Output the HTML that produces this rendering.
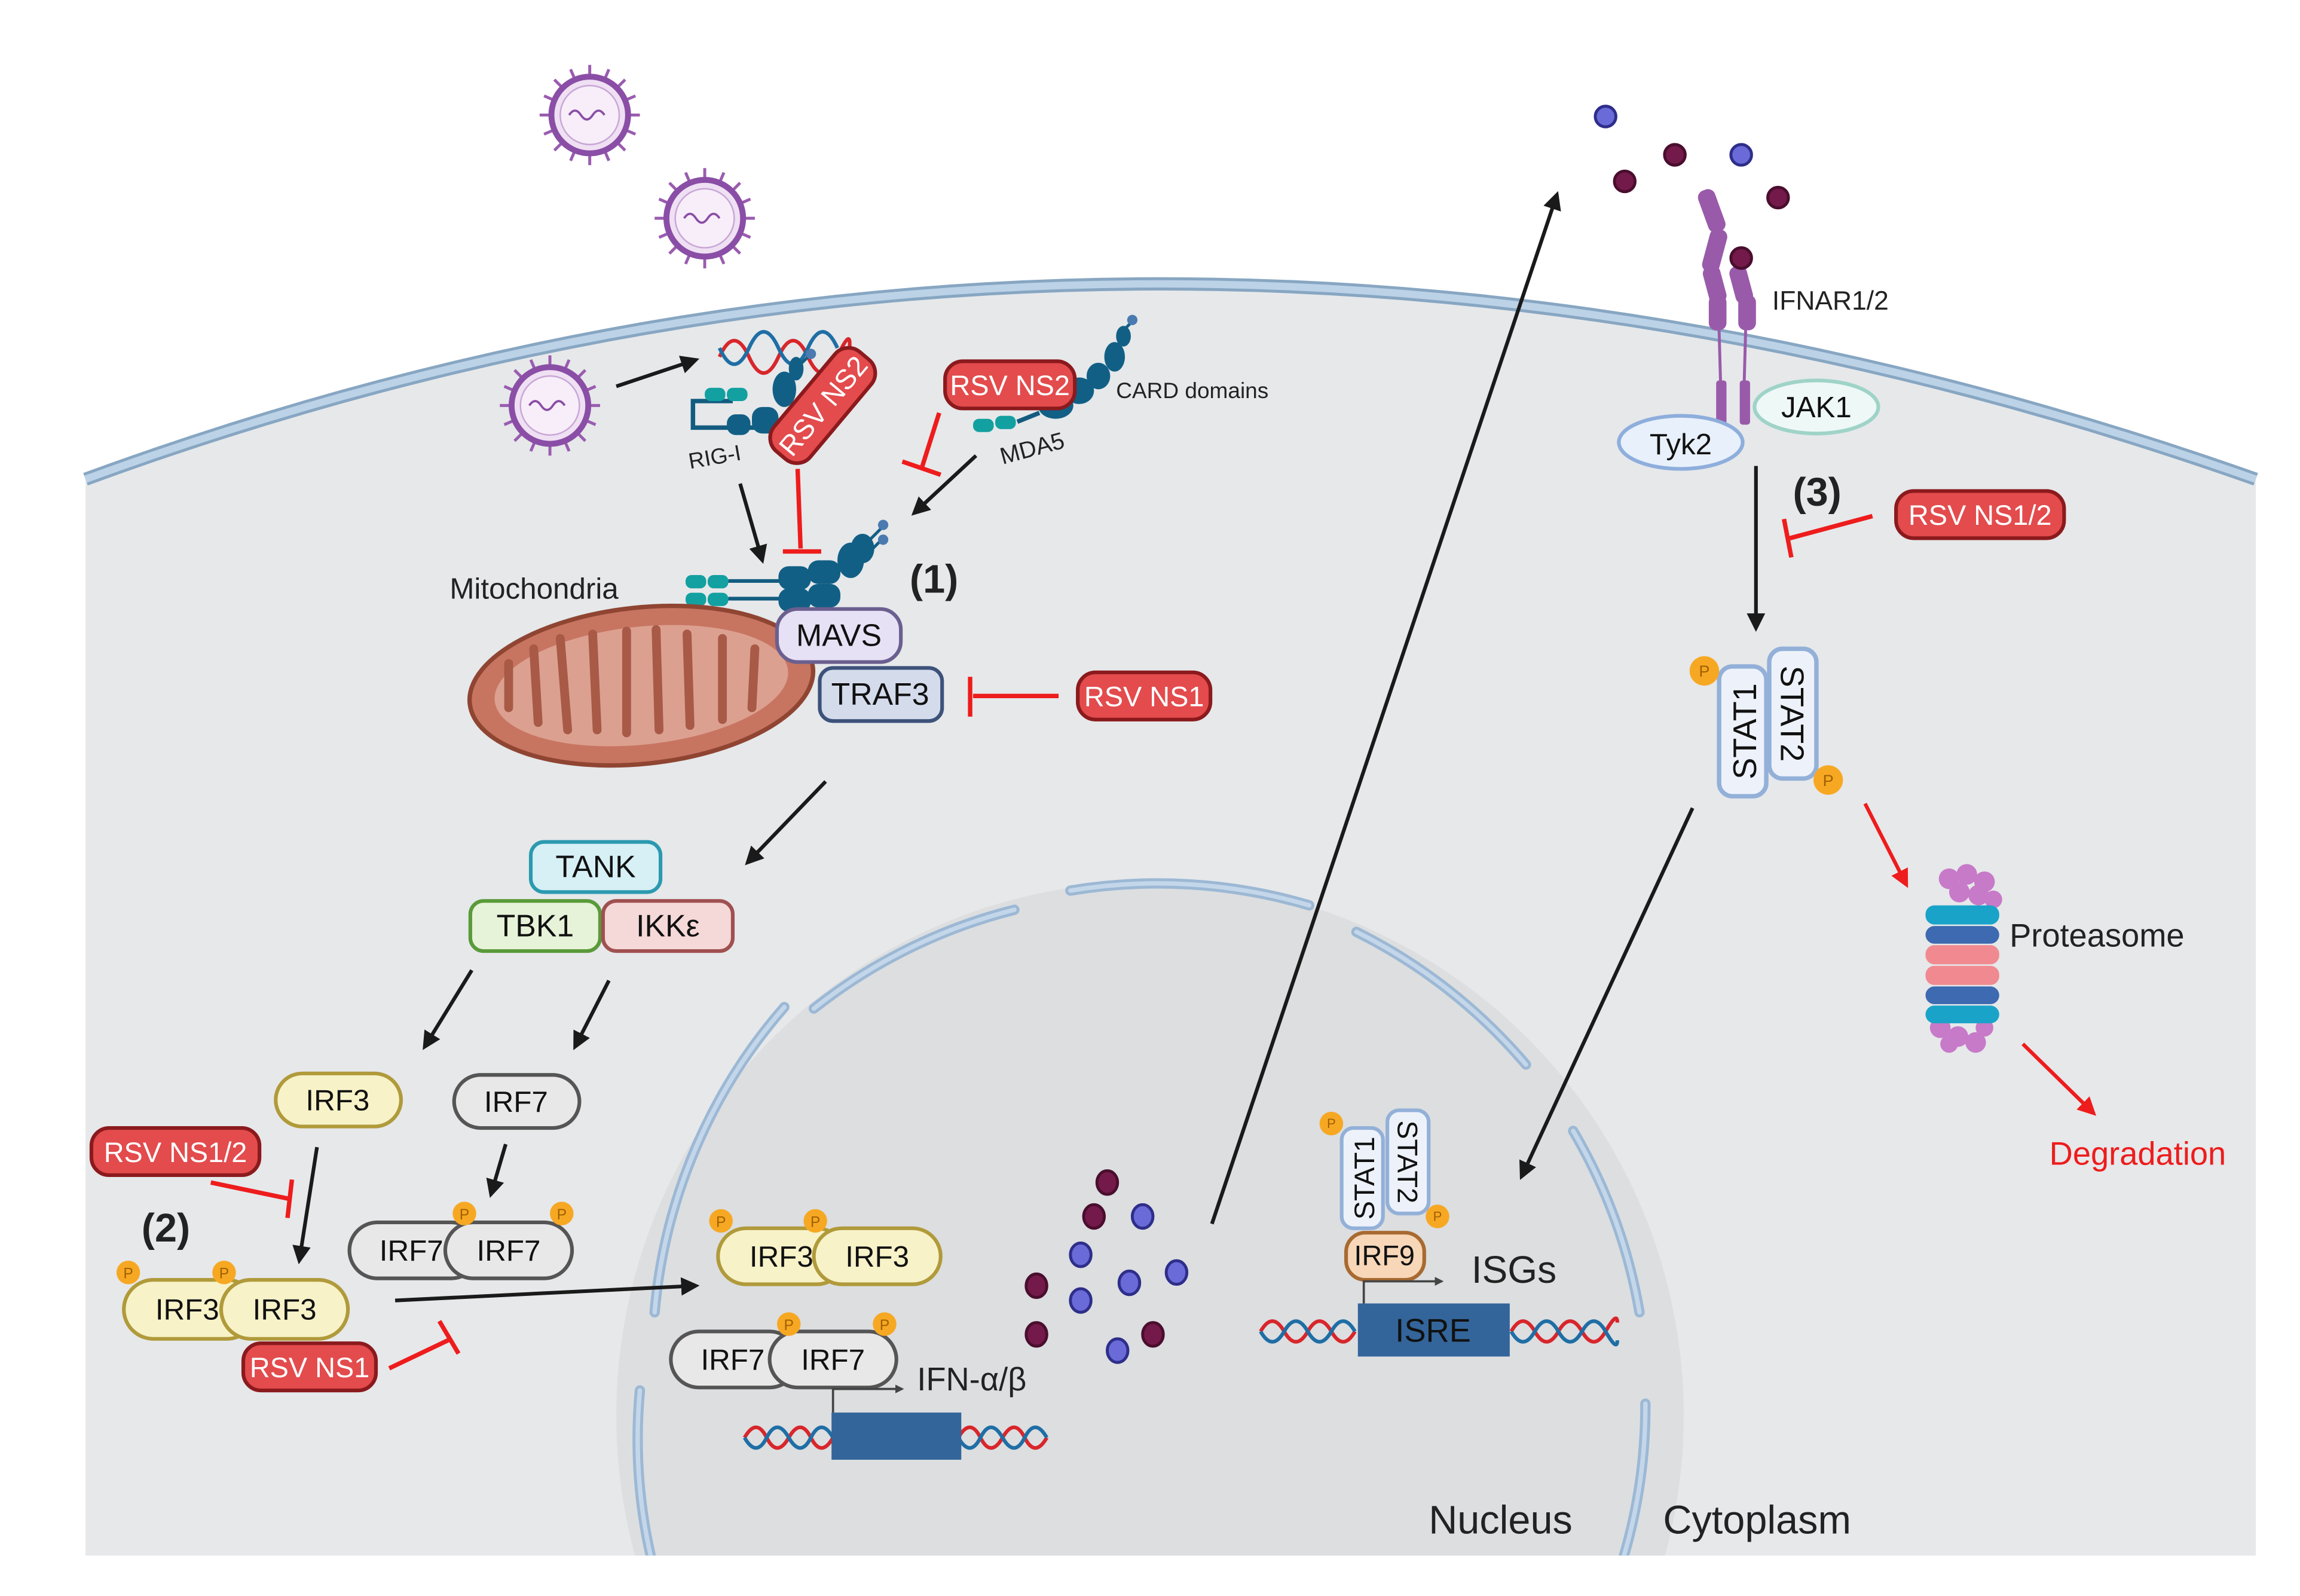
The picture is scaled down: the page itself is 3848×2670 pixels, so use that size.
<!DOCTYPE html>
<html><head><meta charset="utf-8"><style>
html,body{margin:0;padding:0;background:#fff;width:3848px;height:2670px;overflow:hidden}
svg{display:block;position:absolute;left:0;top:0}
text{font-family:"Liberation Sans",sans-serif}
</style></head><body>
<svg width="3848" height="2670" viewBox="0 0 1560 1082.4" xmlns="http://www.w3.org/2000/svg">
<defs>
<marker id="ab" viewBox="0 0 10 10" refX="8" refY="5" markerWidth="5" markerHeight="5" orient="auto"><path d="M0,0L10,5L0,10z" fill="#1a1a1a"/></marker>
<marker id="ar" viewBox="0 0 10 10" refX="8" refY="5" markerWidth="5" markerHeight="5" orient="auto"><path d="M0,0L10,5L0,10z" fill="#ee1c1c"/></marker>
<marker id="as" viewBox="0 0 10 10" refX="8" refY="5" markerWidth="4" markerHeight="4" orient="auto"><path d="M0,0L10,5L0,10z" fill="#444"/></marker>
<clipPath id="cell"><path d="M58,325 Q780,60 1530,325 L1530,1055 L58,1055 Z"/></clipPath>
<g id="virus">
<g stroke="#9a5cb0" stroke-width="2">
<line x1="0" y1="-34" x2="0" y2="-26"/><line x1="0" y1="34" x2="0" y2="26"/><line x1="-34" y1="0" x2="-26" y2="0"/><line x1="34" y1="0" x2="26" y2="0"/>
<line x1="24" y1="24" x2="18" y2="18"/><line x1="-24" y1="24" x2="-18" y2="18"/><line x1="24" y1="-24" x2="18" y2="-18"/><line x1="-24" y1="-24" x2="-18" y2="-18"/>
<line x1="13" y1="31" x2="10" y2="24"/><line x1="-13" y1="31" x2="-10" y2="24"/><line x1="13" y1="-31" x2="10" y2="-24"/><line x1="-13" y1="-31" x2="-10" y2="-24"/>
<line x1="31" y1="13" x2="24" y2="10"/><line x1="-31" y1="13" x2="-24" y2="10"/><line x1="31" y1="-13" x2="24" y2="-10"/><line x1="-31" y1="-13" x2="-24" y2="-10"/>
</g>
<circle r="26" fill="#efe0f3" stroke="#8a4ea6" stroke-width="4"/>
<circle r="20" fill="#f7eef9" stroke="#c9a6d6" stroke-width="1"/>
<path d="M-14,0 q4,-6 8,0 t8,0 t8,0" stroke="#8a4ea6" fill="none" stroke-width="1.5"/>
</g>
</defs>

<path d="M58,325 Q780,60 1530,325 L1530,1055 L58,1055 Z" fill="#e6e8ea"/>
<circle cx="780" cy="960" r="362" fill="#dcdee0" clip-path="url(#cell)"/>
<path d="M58,325 Q780,60 1530,325" fill="none" stroke="#87a6c2" stroke-width="9"/>
<path d="M58,325 Q780,60 1530,325" fill="none" stroke="#bcd2e7" stroke-width="5"/>
<g fill="none" stroke="#9cb8d4" stroke-width="7" stroke-linecap="round" clip-path="url(#cell)">
<path d="M444,890 A362,362 0 0 1 532,683"/>
<path d="M552,684 A362,362 0 0 1 688,617"/>
<path d="M726,604 A362,362 0 0 1 888,614"/>
<path d="M920,632 A362,362 0 0 1 1035,722"/>
<path d="M1067,767 A362,362 0 0 1 1112,890"/>
<path d="M1116,952 A362,362 0 0 1 1100,1060"/>
<path d="M434,943 A362,362 0 0 0 445,1070"/>
</g>
<g fill="none" stroke="#c4d7ea" stroke-width="3" stroke-linecap="round" clip-path="url(#cell)">
<path d="M444,890 A362,362 0 0 1 532,683"/>
<path d="M552,684 A362,362 0 0 1 688,617"/>
<path d="M726,604 A362,362 0 0 1 888,614"/>
<path d="M920,632 A362,362 0 0 1 1035,722"/>
<path d="M1067,767 A362,362 0 0 1 1112,890"/>
<path d="M1116,952 A362,362 0 0 1 1100,1060"/>
<path d="M434,943 A362,362 0 0 0 445,1070"/>
</g>

<use href="#virus" x="400" y="78"/>
<use href="#virus" x="478" y="148"/>
<use href="#virus" x="373" y="275"/>

<path d="M488,242 q10,-22 20,0 t20,0 t20,0 t20,0 t8,-4" fill="none" stroke="#d8262b" stroke-width="2.5"/>
<path d="M488,236 q10,22 20,0 t20,0 t20,0 t20,0" fill="none" stroke="#1f6ea5" stroke-width="2.5"/>

<path d="M497,272 L470,272 L470,290 L515,290" fill="none" stroke="#135c80" stroke-width="3"/>
<g fill="#13a0a0"><rect x="478" y="263" width="14" height="9" rx="4"/><rect x="493" y="263" width="14" height="9" rx="4"/></g>
<g fill="#125f85"><rect x="493" y="281" width="16" height="14" rx="6"/><rect x="510" y="276" width="18" height="18" rx="7"/><ellipse cx="532" cy="264" rx="8" ry="12"/><ellipse cx="540" cy="250" rx="5" ry="8"/></g>
<line x1="544" y1="246" x2="550" y2="240" stroke="#125f85" stroke-width="2"/><circle cx="550" cy="240" r="3.5" fill="#4a7ab0"/>
<text x="468" y="318" font-size="15" fill="#222" transform="rotate(-10 468 318)">RIG-I</text>
<g transform="translate(558,275) rotate(-50)"><rect x="-44" y="-16" width="88" height="32" rx="12" fill="#e34b4d" stroke="#8b1a1d" stroke-width="2.5"/><text x="0" y="7" font-size="19" fill="#fff" text-anchor="middle">RSV NS2</text></g>

<g fill="#13a0a0"><rect x="660" y="284" width="14" height="9" rx="4"/><rect x="675" y="282" width="14" height="9" rx="4"/></g>
<path d="M690,286 L705,280" stroke="#135c80" stroke-width="3"/>
<g fill="#125f85"><ellipse cx="716" cy="275" rx="12" ry="9"/><ellipse cx="732" cy="265" rx="10" ry="9"/><ellipse cx="745" cy="255" rx="8" ry="9"/><ellipse cx="756" cy="242" rx="7" ry="10"/><ellipse cx="762" cy="228" rx="5" ry="7"/></g>
<line x1="764" y1="222" x2="768" y2="218" stroke="#125f85" stroke-width="2"/><circle cx="768" cy="217" r="3.5" fill="#4a7ab0"/>
<rect x="641" y="245" width="88" height="32" rx="12" fill="#e34b4d" stroke="#8b1a1d" stroke-width="2.5"/><text x="685" y="268" font-size="19" fill="#fff" text-anchor="middle">RSV NS2</text>
<text x="757" y="270" font-size="15" fill="#222">CARD domains</text>
<text x="680" y="315" font-size="16" fill="#222" transform="rotate(-15 680 315)">MDA5</text>

<line x1="418" y1="262" x2="472" y2="244" stroke="#1a1a1a" stroke-width="2.5" marker-end="url(#ab)"/>
<line x1="502" y1="328" x2="517" y2="380" stroke="#1a1a1a" stroke-width="2.5" marker-end="url(#ab)"/>
<line x1="541" y1="318" x2="543" y2="372" stroke="#ee1c1c" stroke-width="3"/><line x1="531" y1="374" x2="557" y2="374" stroke="#ee1c1c" stroke-width="3"/>
<line x1="637" y1="280" x2="625" y2="318" stroke="#ee1c1c" stroke-width="3"/><line x1="612" y1="313" x2="638" y2="322" stroke="#ee1c1c" stroke-width="3"/>
<line x1="662" y1="309" x2="620" y2="348" stroke="#1a1a1a" stroke-width="2.5" marker-end="url(#ab)"/>

<g fill="#13a0a0"><rect x="465" y="390" width="14" height="9" rx="4"/><rect x="480" y="390" width="14" height="9" rx="4"/><rect x="465" y="402" width="14" height="9" rx="4"/><rect x="480" y="402" width="14" height="9" rx="4"/></g>
<g stroke="#135c80" stroke-width="2.5"><line x1="494" y1="394" x2="530" y2="394"/><line x1="494" y1="406" x2="530" y2="406"/></g>
<g fill="#125f85"><rect x="528" y="384" width="22" height="16" rx="7"/><rect x="528" y="399" width="22" height="16" rx="7"/><rect x="548" y="380" width="22" height="16" rx="7"/><rect x="548" y="396" width="22" height="16" rx="7"/><ellipse cx="577" cy="380" rx="9" ry="12"/><ellipse cx="585" cy="372" rx="8" ry="10"/></g>
<g stroke="#125f85" stroke-width="2"><line x1="590" y1="366" x2="598" y2="358"/><line x1="592" y1="372" x2="598" y2="366"/></g>
<circle cx="599" cy="356" r="3.5" fill="#4a7ab0"/><circle cx="599" cy="366" r="3.5" fill="#4a7ab0"/>
<text x="617" y="402" font-size="27" font-weight="bold" fill="#222">(1)</text>
<text x="305" y="406" font-size="20" fill="#222">Mitochondria</text>

<ellipse cx="435" cy="465" rx="117" ry="53" fill="#c77561" stroke="#8f4532" stroke-width="3" transform="rotate(-6 435 465)"/>
<ellipse cx="435" cy="465" rx="100" ry="40" fill="#dca090" transform="rotate(-6 435 465)"/>
<path d="M345,480 L345,450 M365,490 L362,440 M385,495 L380,433 M405,495 L402,430 M425,497 L425,428 M447,495 L445,427 M468,492 L466,430 M490,488 L490,433 M510,480 L512,440" stroke="#a85a47" stroke-width="6" stroke-linecap="round"/>

<rect x="527" y="413" width="84" height="36" rx="14" fill="#e6e1f5" stroke="#6b5f8f" stroke-width="2.5"/><text x="569" y="438" font-size="21" text-anchor="middle" fill="#111">MAVS</text>
<rect x="556" y="453" width="83" height="36" rx="9" fill="#d4dcec" stroke="#3d527a" stroke-width="2.5"/><text x="597" y="478" font-size="21" text-anchor="middle" fill="#111">TRAF3</text>
<line x1="660" y1="472" x2="718" y2="472" stroke="#ee1c1c" stroke-width="3"/><line x1="658" y1="459" x2="658" y2="486" stroke="#ee1c1c" stroke-width="3"/>
<rect x="731" y="456" width="90" height="32" rx="12" fill="#e34b4d" stroke="#8b1a1d" stroke-width="2.5"/><text x="776" y="479" font-size="19" fill="#fff" text-anchor="middle">RSV NS1</text>

<line x1="560" y1="530" x2="507" y2="585" stroke="#1a1a1a" stroke-width="2.5" marker-end="url(#ab)"/>
<rect x="360" y="571" width="88" height="34" rx="9" fill="#d7f0f5" stroke="#2b9ab0" stroke-width="2.5"/><text x="404" y="595" font-size="21" text-anchor="middle" fill="#111">TANK</text>
<rect x="319" y="611" width="88" height="34" rx="9" fill="#e6f3d8" stroke="#5a9a3a" stroke-width="2.5"/><text x="363" y="635" font-size="21" text-anchor="middle" fill="#111">TBK1</text>
<rect x="409" y="611" width="88" height="34" rx="9" fill="#f5d8d8" stroke="#a05050" stroke-width="2.5"/><text x="453" y="635" font-size="21" text-anchor="middle" fill="#111">IKKε</text>
<line x1="320" y1="658" x2="288" y2="710" stroke="#1a1a1a" stroke-width="2.5" marker-end="url(#ab)"/>
<line x1="413" y1="665" x2="390" y2="710" stroke="#1a1a1a" stroke-width="2.5" marker-end="url(#ab)"/>

<rect x="187" y="728" width="85" height="36" rx="18" fill="#f7f2c8" stroke="#b09a3a" stroke-width="2.5"/><text x="229" y="753" font-size="20" text-anchor="middle" fill="#111">IRF3</text>
<rect x="308" y="729" width="85" height="36" rx="18" fill="#e8e8e8" stroke="#555" stroke-width="2.5"/><text x="350" y="754" font-size="20" text-anchor="middle" fill="#111">IRF7</text>
<line x1="215" y1="778" x2="203" y2="855" stroke="#1a1a1a" stroke-width="2.5" marker-end="url(#ab)"/>
<line x1="343" y1="776" x2="333" y2="810" stroke="#1a1a1a" stroke-width="2.5" marker-end="url(#ab)"/>
<rect x="62" y="765" width="114" height="32" rx="12" fill="#e34b4d" stroke="#8b1a1d" stroke-width="2.5"/><text x="119" y="788" font-size="19" fill="#fff" text-anchor="middle">RSV NS1/2</text>
<line x1="143" y1="802" x2="196" y2="813" stroke="#ee1c1c" stroke-width="3"/><line x1="198" y1="800" x2="195" y2="826" stroke="#ee1c1c" stroke-width="3"/>
<text x="96" y="842" font-size="27" font-weight="bold" fill="#222">(2)</text>

<rect x="237" y="829" width="88" height="38" rx="19" fill="#e8e8e8" stroke="#555" stroke-width="2.5"/><text x="279" y="855" font-size="20" text-anchor="middle" fill="#111">IRF7</text>
<rect x="302" y="829" width="86" height="38" rx="19" fill="#e8e8e8" stroke="#555" stroke-width="2.5"/><text x="345" y="855" font-size="20" text-anchor="middle" fill="#111">IRF7</text>
<g font-size="10" text-anchor="middle" fill="#a06000"><circle cx="315" cy="823" r="8" fill="#f7a823"/><text x="315" y="827">P</text><circle cx="381" cy="823" r="8" fill="#f7a823"/><text x="381" y="827">P</text></g>

<rect x="84" y="868" width="90" height="40" rx="20" fill="#f7f2c8" stroke="#b09a3a" stroke-width="2.5"/><text x="127" y="895" font-size="20" text-anchor="middle" fill="#111">IRF3</text>
<rect x="150" y="868" width="86" height="40" rx="20" fill="#f7f2c8" stroke="#b09a3a" stroke-width="2.5"/><text x="193" y="895" font-size="20" text-anchor="middle" fill="#111">IRF3</text>
<g font-size="10" text-anchor="middle" fill="#a06000"><circle cx="87" cy="863" r="8" fill="#f7a823"/><text x="87" y="867">P</text><circle cx="152" cy="863" r="8" fill="#f7a823"/><text x="152" y="867">P</text></g>
<rect x="165" y="911" width="90" height="32" rx="12" fill="#e34b4d" stroke="#8b1a1d" stroke-width="2.5"/><text x="210" y="934" font-size="19" fill="#fff" text-anchor="middle">RSV NS1</text>
<line x1="264" y1="928" x2="306" y2="908" stroke="#ee1c1c" stroke-width="3"/><line x1="298" y1="896" x2="311" y2="918" stroke="#ee1c1c" stroke-width="3"/>
<line x1="268" y1="882" x2="472" y2="872" stroke="#1a1a1a" stroke-width="2.5" marker-end="url(#ab)"/>

<rect x="487" y="833" width="86" height="38" rx="19" fill="#f7f2c8" stroke="#b09a3a" stroke-width="2.5"/><text x="530" y="859" font-size="20" text-anchor="middle" fill="#111">IRF3</text>
<rect x="552" y="833" width="86" height="38" rx="19" fill="#f7f2c8" stroke="#b09a3a" stroke-width="2.5"/><text x="595" y="859" font-size="20" text-anchor="middle" fill="#111">IRF3</text>
<g font-size="10" text-anchor="middle" fill="#a06000"><circle cx="489" cy="828" r="8" fill="#f7a823"/><text x="489" y="832">P</text><circle cx="553" cy="828" r="8" fill="#f7a823"/><text x="553" y="832">P</text></g>

<rect x="455" y="903" width="86" height="38" rx="19" fill="#e8e8e8" stroke="#555" stroke-width="2.5"/><text x="497" y="929" font-size="20" text-anchor="middle" fill="#111">IRF7</text>
<rect x="522" y="903" width="86" height="38" rx="19" fill="#e8e8e8" stroke="#555" stroke-width="2.5"/><text x="565" y="929" font-size="20" text-anchor="middle" fill="#111">IRF7</text>
<g font-size="10" text-anchor="middle" fill="#a06000"><circle cx="535" cy="898" r="8" fill="#f7a823"/><text x="535" y="902">P</text><circle cx="600" cy="898" r="8" fill="#f7a823"/><text x="600" y="902">P</text></g>
<path d="M565,958 L565,942 L612,942" fill="none" stroke="#444" stroke-width="1.5" marker-end="url(#as)"/>
<text x="622" y="943" font-size="22" fill="#222">IFN-α/β</text>
<path d="M505,975 q8,-14 15,0 t15,0 t15,0 t15,0 M650,975 q8,-14 15,0 t15,0 t15,0 t15,0" fill="none" stroke="#d8262b" stroke-width="2.5"/>
<path d="M505,975 q8,14 15,0 t15,0 t15,0 t15,0 M650,975 q8,14 15,0 t15,0 t15,0 t15,0" fill="none" stroke="#1f6ea5" stroke-width="2.5"/>
<rect x="564" y="958" width="88" height="32" fill="#33659a"/>

<g stroke-width="2">
<g fill="#741a4a" stroke="#4a0e2e"><ellipse cx="751" cy="802" rx="7" ry="8"/><ellipse cx="742" cy="825" rx="7" ry="8"/><ellipse cx="703" cy="872" rx="7" ry="8"/><ellipse cx="703" cy="905" rx="7" ry="8"/><ellipse cx="782" cy="905" rx="7" ry="8"/>
<circle cx="1136" cy="105" r="7"/><circle cx="1102" cy="123" r="7"/><circle cx="1206" cy="134" r="7"/></g>
<g fill="#6a6ad8" stroke="#2e2e8a"><ellipse cx="775" cy="825" rx="7" ry="8"/><ellipse cx="733" cy="851" rx="7" ry="8"/><ellipse cx="798" cy="863" rx="7" ry="8"/><ellipse cx="766" cy="870" rx="7" ry="8"/><ellipse cx="733" cy="882" rx="7" ry="8"/><ellipse cx="758" cy="916" rx="7" ry="8"/>
<circle cx="1089" cy="79" r="7"/><circle cx="1181" cy="105" r="7"/></g>
</g>
<line x1="822" y1="830" x2="1056" y2="132" stroke="#1a1a1a" stroke-width="2.5" marker-end="url(#ab)"/>

<g fill="#9a5aaa">
<rect x="1155" y="128" width="12" height="30" rx="5" transform="rotate(-20 1161 143)"/>
<rect x="1157" y="155" width="12" height="30" rx="5" transform="rotate(15 1163 170)"/>
<rect x="1157" y="180" width="12" height="26" rx="5" transform="rotate(-15 1163 193)"/>
<rect x="1159" y="200" width="12" height="24" rx="5"/>
<rect x="1175" y="180" width="12" height="26" rx="5" transform="rotate(-15 1181 193)"/>
<rect x="1179" y="200" width="12" height="24" rx="5"/>
<rect x="1164" y="258" width="7" height="30" rx="2"/><rect x="1180" y="258" width="7" height="30" rx="2"/>
</g>
<g stroke="#9a5aaa" stroke-width="2"><line x1="1166" y1="224" x2="1167" y2="260"/><line x1="1184" y1="224" x2="1183" y2="260"/></g>
<circle cx="1181" cy="175" r="7" fill="#741a4a" stroke="#4a0e2e" stroke-width="2"/>
<text x="1202" y="210" font-size="18" fill="#222">IFNAR1/2</text>
<ellipse cx="1232" cy="276" rx="42" ry="18" fill="#eef8f6" stroke="#9fd3c8" stroke-width="2.5"/><text x="1232" y="283" font-size="20" text-anchor="middle" fill="#111">JAK1</text>
<ellipse cx="1140" cy="300" rx="42" ry="18" fill="#e8f0fb" stroke="#8eaedc" stroke-width="2.5"/><text x="1140" y="308" font-size="20" text-anchor="middle" fill="#111">Tyk2</text>
<line x1="1191" y1="316" x2="1191" y2="426" stroke="#1a1a1a" stroke-width="2.5" marker-end="url(#ab)"/>
<text x="1216" y="343" font-size="27" font-weight="bold" fill="#222">(3)</text>
<line x1="1270" y1="350" x2="1214" y2="365" stroke="#ee1c1c" stroke-width="3"/><line x1="1210" y1="352" x2="1215" y2="378" stroke="#ee1c1c" stroke-width="3"/>
<rect x="1286" y="333" width="114" height="32" rx="12" fill="#e34b4d" stroke="#8b1a1d" stroke-width="2.5"/><text x="1343" y="356" font-size="19" fill="#fff" text-anchor="middle">RSV NS1/2</text>

<rect x="1166" y="452" width="32" height="88" rx="9" fill="#edf2fa" stroke="#93b0d8" stroke-width="3"/>
<rect x="1200" y="440" width="32" height="88" rx="9" fill="#edf2fa" stroke="#93b0d8" stroke-width="3"/>
<text transform="translate(1191,496) rotate(-90)" font-size="22" text-anchor="middle" fill="#111">STAT1</text>
<text transform="translate(1208,484) rotate(90)" font-size="22" text-anchor="middle" fill="#111">STAT2</text>
<g font-size="11" text-anchor="middle" fill="#a06000"><circle cx="1156" cy="455" r="10" fill="#f7a823"/><text x="1156" y="459">P</text><circle cx="1240" cy="529" r="10" fill="#f7a823"/><text x="1240" y="533">P</text></g>
<line x1="1148" y1="548" x2="1032" y2="798" stroke="#1a1a1a" stroke-width="2.5" marker-end="url(#ab)"/>
<line x1="1265" y1="545" x2="1293" y2="600" stroke="#ee1c1c" stroke-width="2.5" marker-end="url(#ar)"/>

<g>
<g fill="#c77ac8"><circle cx="1322" cy="596" r="7"/><circle cx="1334" cy="593" r="7"/><circle cx="1346" cy="598" r="7"/><circle cx="1329" cy="605" r="7"/><circle cx="1342" cy="607" r="7"/><circle cx="1352" cy="610" r="6"/>
<circle cx="1316" cy="697" r="7"/><circle cx="1328" cy="703" r="7"/><circle cx="1340" cy="707" r="7"/><circle cx="1322" cy="708" r="6"/><circle cx="1346" cy="697" r="6"/></g>
<rect x="1306" y="614" width="50" height="13" rx="6" fill="#1aa3c8"/>
<rect x="1306" y="628" width="50" height="12" rx="6" fill="#3d6ab0"/>
<rect x="1306" y="641" width="50" height="13" rx="6" fill="#f08a90"/>
<rect x="1306" y="655" width="50" height="13" rx="6" fill="#f08a90"/>
<rect x="1306" y="669" width="50" height="12" rx="6" fill="#3d6ab0"/>
<rect x="1306" y="682" width="50" height="12" rx="6" fill="#1aa3c8"/>
</g>
<text x="1363" y="642" font-size="22" fill="#222">Proteasome</text>
<line x1="1372" y1="708" x2="1420" y2="755" stroke="#ee1c1c" stroke-width="2.5" marker-end="url(#ar)"/>
<text x="1390" y="790" font-size="22" fill="#ee1c1c">Degradation</text>

<rect x="910" y="765" width="28" height="68" rx="8" fill="#edf2fa" stroke="#93b0d8" stroke-width="2.5"/>
<rect x="941" y="753" width="28" height="70" rx="8" fill="#edf2fa" stroke="#93b0d8" stroke-width="2.5"/>
<text transform="translate(932,799) rotate(-90)" font-size="19" text-anchor="middle" fill="#111">STAT1</text>
<text transform="translate(948,788) rotate(90)" font-size="19" text-anchor="middle" fill="#111">STAT2</text>
<g font-size="9" text-anchor="middle" fill="#a06000"><circle cx="903" cy="762" r="8" fill="#f7a823"/><text x="903" y="765">P</text><circle cx="975" cy="825" r="8" fill="#f7a823"/><text x="975" y="828">P</text></g>
<rect x="913" y="836" width="53" height="32" rx="13" fill="#f7d7b8" stroke="#a86a30" stroke-width="2.5"/><text x="939" y="858" font-size="19" text-anchor="middle" fill="#111">IRF9</text>
<path d="M925,884 L925,869 L978,869" fill="none" stroke="#444" stroke-width="1.5" marker-end="url(#as)"/>
<text x="998" y="870" font-size="26" fill="#222">ISGs</text>
<path d="M855,903 q8,-14 16,0 t16,0 t16,0 t16,0 M1025,903 q8,-14 16,0 t16,0 t16,0 t16,0 t8,-6" fill="none" stroke="#d8262b" stroke-width="2.5"/>
<path d="M855,903 q8,14 16,0 t16,0 t16,0 t16,0 M1025,903 q8,14 16,0 t16,0 t16,0 t16,0 t8,6" fill="none" stroke="#1f6ea5" stroke-width="2.5"/>
<rect x="921" y="884" width="103" height="36" fill="#33659a"/>
<text x="972" y="910" font-size="22" text-anchor="middle" fill="#111">ISRE</text>

<text x="969" y="1040" font-size="27" fill="#222">Nucleus</text>
<text x="1128" y="1040" font-size="27" fill="#222">Cytoplasm</text>
</svg>
</body></html>
